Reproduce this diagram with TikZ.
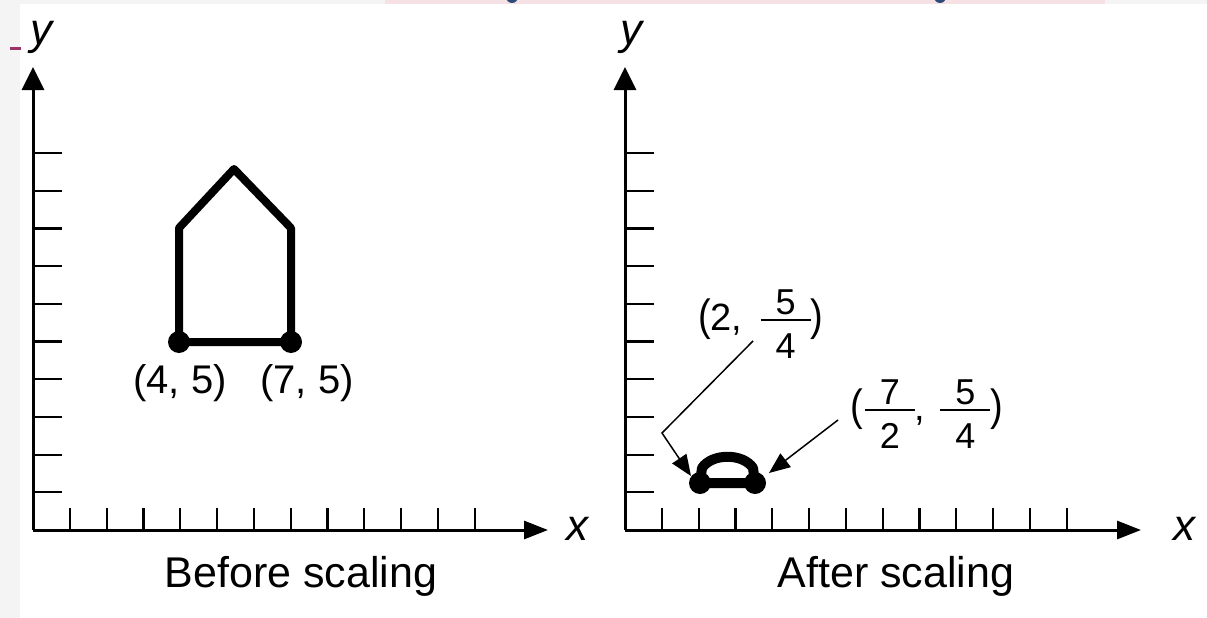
\RequirePackage{fix-cm}
\documentclass[tikz,border=0pt]{standalone}
\usepackage{fontspec}
\setmainfont{Liberation Sans}
\usepackage{graphicx}
\usetikzlibrary{arrows.meta}
\definecolor{bandgrey}{HTML}{F4F4F4}
\definecolor{bandpink}{HTML}{F6E2E4}
\definecolor{titleblue}{HTML}{2E4A7A}
\definecolor{dashpink}{HTML}{9C3366}
\newcommand\fracdigits{\fontsize{36}{36}\selectfont}
\newcommand\fracpart[2]{\makebox[50pt][l]{\rlap{\raisebox{9pt}{\rule{50pt}{2pt}}}\rlap{\makebox[50pt]{\raisebox{16pt}{\fracdigits #1}}}\makebox[50pt]{\raisebox{-28pt}{\fracdigits #2}}}}
\newcommand\lpar{\scalebox{1}[1.15]{(}}
\newcommand\rpar{\scalebox{1}[1.15]{)}}
\tikzset{
  yaxis/.style={line width=3pt, -{Triangle[length=23pt,width=22pt]}},
  xaxis/.style={line width=3pt, -{Triangle[length=24pt,width=18pt]}},
  tickmark/.style={line width=2.2pt},
  shapeline/.style={line width=8pt, line join=round, line cap=round},
  leader/.style={line width=1.5pt, -{Triangle[length=21pt,width=17pt]}},
  axlabel/.style={font=\fontsize{44}{44}\selectfont\itshape, inner sep=0pt},
  caption/.style={font=\fontsize{43}{50}\selectfont, inner sep=0pt, anchor=base},
  ptlabel/.style={font=\fontsize{40}{42}\selectfont, inner sep=0pt, anchor=base},
  fraclabel/.style={font=\fontsize{38}{40}\selectfont, inner sep=0pt, anchor=base west},
  ptdot/.style={fill=black},
}
\begin{document}
\begin{tikzpicture}[x=1pt,y=-1pt]
\useasboundingbox (0,0) rectangle (1207,618);
\fill[white] (0,0) rectangle (1207,618);
% page remnants
\fill[bandgrey] (0,0) rectangle (20,618);
\fill[bandgrey] (0,0) rectangle (1207,4);
\fill[bandpink] (385,0) rectangle (1105,4);
\fill[titleblue] (512,-3) circle (6);
\fill[titleblue] (940,-3) circle (6);
\fill[dashpink] (10,47.5) rectangle (21,50.5);

% ---------------- left panel ----------------
\coordinate (o1) at (33,530);
\coordinate (y1tip) at (33,67);
\coordinate (x1tip) at (548,530);
\draw[yaxis] (o1) -- (y1tip);
\draw[xaxis] (o1) -- (x1tip);
\foreach \k in {1,...,10} \draw[tickmark] (33,530-37.7*\k) -- (62,530-37.7*\k);
\foreach \k in {1,...,12} \draw[tickmark] (33+36.8*\k,530) -- (33+36.8*\k,508);
\node[axlabel] (ylab1) at (41,37) {y};
\node[axlabel] (xlab1) at (577,529) {x};

\coordinate (A) at (179,342);
\coordinate (B) at (291,342);
\coordinate (C) at (291,228);
\coordinate (D) at (234,169);
\coordinate (E) at (179,228);
\draw[shapeline] (A) -- (B) -- (C) -- (D) -- (E) -- cycle;
\fill[ptdot] (A) circle (11);
\fill[ptdot] (B) circle (11);
\node[ptlabel] (lA) at (180,393) {(4, 5)};
\node[ptlabel] (lB) at (307,393) {(7, 5)};
\node[caption] (cap1) at (301,587) {Before scaling};

% ---------------- right panel ----------------
\coordinate (o2) at (625,530);
\coordinate (y2tip) at (625,67);
\coordinate (x2tip) at (1141,530);
\draw[yaxis] (o2) -- (y2tip);
\draw[xaxis] (o2) -- (x2tip);
\foreach \k in {1,...,10} \draw[tickmark] (625,530-37.7*\k) -- (654,530-37.7*\k);
\foreach \k in {1,...,12} \draw[tickmark] (625+36.8*\k,530) -- (625+36.8*\k,508);
\node[axlabel] (ylab2) at (631,37) {y};
\node[axlabel] (xlab2) at (1184,529) {x};

\coordinate (A2) at (700,483);
\coordinate (B2) at (755,483);
\draw[shapeline, line width=10pt] (A2) -- (702,468) .. controls (712,453) and (743,453) .. (753,468) -- (B2) -- cycle;
\fill[ptdot] (A2) circle (11);
\fill[ptdot] (B2) circle (11);

\node[fraclabel] (f1) at (698,330) {\lpar 2,\hspace{18pt}\fracpart{5}{4}\rpar};
\node[fraclabel] (f2) at (850,420) {\lpar\hspace{2pt}\fracpart{7}{2},\hspace{15pt}\fracpart{5}{4}\rpar};

\coordinate (f1end) at (753,341);
\coordinate (bend) at (662,433);
\coordinate (f2end) at (838,420);
\draw[leader] (f1end) -- (bend) -- (691,476);
\draw[leader] (f2end) -- (769,473);
\node[caption] (cap2) at (896,587) {After scaling};
\end{tikzpicture}
\end{document}
